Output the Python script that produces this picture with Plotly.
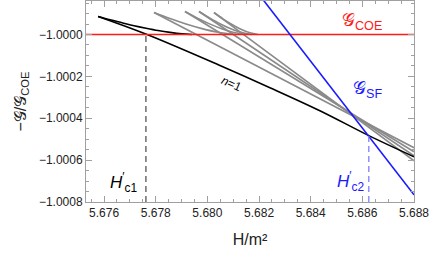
import plotly.graph_objects as go

# ---- data ----
x_range = [5.6753, 5.688]
y_range = [-1.0008, -0.99984]

g_coe_x = [5.6753, 5.688]
g_coe_y = [-1.0, -1.0]

g_sf_x = [5.682, 5.688]
g_sf_y = [-0.999809, -1.000766]

# n = 1 (black): upper branch and lower branch
n1_up_x = [5.675768, 5.676232, 5.676696, 5.677161, 5.677625, 5.678089, 5.678553, 5.679017, 5.679404]
n1_up_y = [-0.999914, -0.999930, -0.999944, -0.999958, -0.999970, -0.999981, -0.999990, -0.999997, -1.0]
n1_lo_x = [5.675768, 5.677663, 5.680487, 5.682422, 5.684356, 5.686251, 5.688]
n1_lo_y = [-0.999914, -1.0, -1.000148, -1.000254, -1.000364, -1.000483, -1.000584]

# higher n (gray): upper branches
n2_up_x = [5.677934, 5.678553, 5.679172, 5.679791, 5.680410, 5.681106]
n2_up_y = [-0.999895, -0.999924, -0.999950, -0.999972, -0.999989, -1.0]
n3_up_x = [5.679133, 5.679598, 5.680062, 5.680526, 5.680990, 5.681493]
n3_up_y = [-0.999890, -0.999921, -0.999948, -0.999971, -0.999989, -1.0]
n4_up_x = [5.679675, 5.680101, 5.680526, 5.680952, 5.681339, 5.681725]
n4_up_y = [-0.999890, -0.999922, -0.999951, -0.999975, -0.999991, -1.0]
n5_up_x = [5.680255, 5.680604, 5.680952, 5.681300, 5.681648, 5.681957]
n5_up_y = [-0.999895, -0.999925, -0.999952, -0.999975, -0.999992, -1.0]

# higher n (gray): lower branches
n2_lo_x = [5.677934, 5.688]
n2_lo_y = [-0.999895, -1.000541]
n3_lo_x = [5.679133, 5.688]
n3_lo_y = [-0.999890, -1.000560]
n4_lo_x = [5.679675, 5.688]
n4_lo_y = [-0.999890, -1.000579]
n5_lo_x = [5.680255, 5.688]
n5_lo_y = [-0.999895, -1.000603]

hc1 = 5.67762
hc2 = 5.68625
hc2_y = -1.000484

x_ticks = [5.676, 5.678, 5.680, 5.682, 5.684, 5.686, 5.688]
x_tick_labels = ["5.676", "5.678", "5.680", "5.682", "5.684", "5.686", "5.688"]
y_ticks = [-1.0008, -1.0006, -1.0004, -1.0002, -1.0000]
y_tick_labels = ["\u22121.0008", "\u22121.0006", "\u22121.0004", "\u22121.0002", "\u22121.0000"]

GRAY = "#8a8a8a"
BLUE = "#1a1aff"
RED = "#ff1a1a"
FONT = "Liberation Sans, Arial, sans-serif"

fig = go.Figure()

def line(x, y, color, width=1.6, dash=None, shape="linear"):
    fig.add_trace(go.Scatter(x=x, y=y, mode="lines", showlegend=False, hoverinfo="skip",
                             line=dict(color=color, width=width, dash=dash, shape=shape)))

for ux, uy, lx, ly in [(n2_up_x, n2_up_y, n2_lo_x, n2_lo_y), (n3_up_x, n3_up_y, n3_lo_x, n3_lo_y),
                       (n4_up_x, n4_up_y, n4_lo_x, n4_lo_y), (n5_up_x, n5_up_y, n5_lo_x, n5_lo_y)]:
    line(ux, uy, GRAY, shape="spline")
    line(lx, ly, GRAY)

line(n1_up_x, n1_up_y, "black", shape="spline")
line(n1_lo_x, n1_lo_y, "black", shape="spline")
line(g_coe_x, g_coe_y, RED, width=1.4)
line(g_sf_x, g_sf_y, BLUE, width=1.6)
line([hc1, hc1], [y_range[0], g_coe_y[0]], "#555555", width=1.3, dash="6px,4px")
line([hc2, hc2], [y_range[0], hc2_y], "#8080ff", width=1.3, dash="6px,4px")

ann = [
    dict(x=0.841, y=0.896, text="\U0001D4A2<sub>COE</sub>", font=dict(color=RED, size=18)),
    dict(x=0.857, y=0.562, text="\U0001D4A2<sub>SF</sub>", font=dict(color=BLUE, size=18)),
    dict(x=0.445, y=0.585, text="<i>n</i>=1", font=dict(color="black", size=12), textangle=24),
    dict(x=0.113, y=0.095, text="<i>H</i><sup>\u2032</sup><sub>c1</sub>", font=dict(color="black", size=17)),
    dict(x=0.805, y=0.104, text="<i>H</i><sup>\u2032</sup><sub>c2</sub>", font=dict(color=BLUE, size=17)),
]
for a in ann:
    a.update(xref="paper", yref="paper", showarrow=False, xanchor="center", yanchor="middle")
    a["font"]["family"] = FONT

axis_common = dict(showline=True, linecolor="#a0a0a0", linewidth=1, mirror="allticks",
                   ticks="inside", ticklen=6, tickcolor="#a0a0a0", tickwidth=1,
                   showgrid=False, zeroline=False,
                   tickfont=dict(family=FONT, size=12, color="#222222"))

fig.update_layout(
    width=432, height=257,
    margin=dict(l=86, r=18, t=1, b=55),
    paper_bgcolor="white", plot_bgcolor="white",
    annotations=ann,
    xaxis=dict(range=x_range, tickvals=x_ticks, ticktext=x_tick_labels,
               minor=dict(ticks="inside", ticklen=3, tickcolor="#a0a0a0", dtick=0.0005, tick0=5.676),
               title=dict(text="H/m\u00b2", font=dict(family=FONT, size=16, color="#222222"), standoff=14),
               **axis_common),
    yaxis=dict(range=y_range, tickvals=y_ticks, ticktext=y_tick_labels,
               minor=dict(ticks="inside", ticklen=3, tickcolor="#a0a0a0", dtick=0.00005, tick0=-1.0),
               title=dict(text="\u2212\U0001D4A2/\U0001D4A2<sub>COE</sub>", font=dict(family=FONT, size=16, color="#222222"), standoff=8),
               **axis_common),
)

fig.write_html("out.html", config={"displayModeBar": False},
               post_script="document.body.style.margin='0';")
